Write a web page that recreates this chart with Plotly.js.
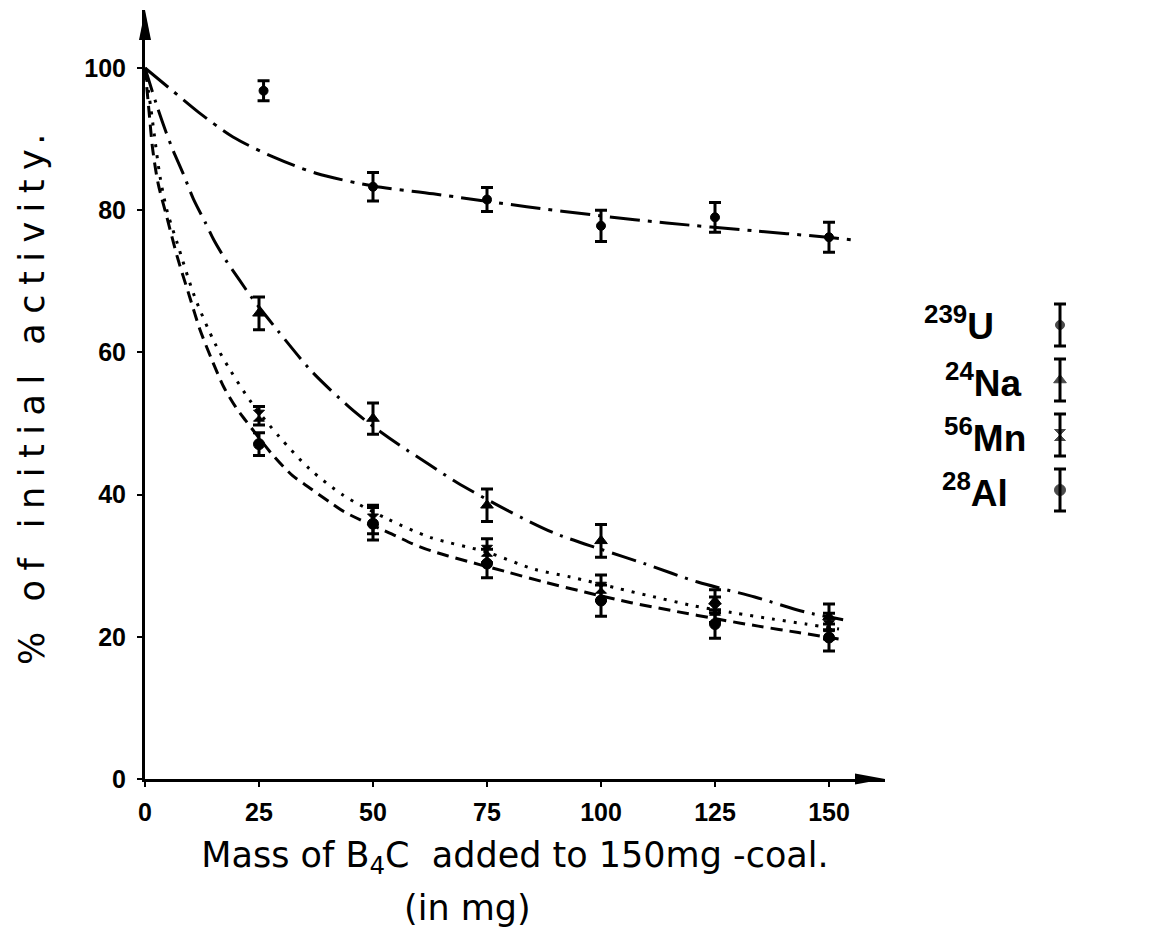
<!DOCTYPE html>
<html><head><meta charset="utf-8">
<script src="https://cdn.plot.ly/plotly-3.0.1.min.js"></script>
<style>
html,body{margin:0;padding:0;background:#fff;}
#chart{width:1153px;height:935px;}
.ytitle{letter-spacing:9.5px;}
</style></head><body><div id="chart"></div>
<script>
// ---------- data ----------
const nuclides = ['U', 'Na', 'Mn', 'Al'];
const massNumbers = ['239', '24', '56', '28'];

const massB4C = [25, 50, 75, 100, 125, 150];
const massB4C_U = [26, 50, 75, 100, 125, 150];

const actU  = [96.8, 83.3, 81.5, 77.8, 79.0, 76.2];
const errU  = [1.4, 2.0, 1.7, 2.2, 2.1, 2.1];
const actNa = [65.5, 50.7, 38.5, 33.5, 25.0, 22.8];
const errNa = [2.3, 2.2, 2.3, 2.3, 1.6, 1.8];
const actMn = [51.1, 36.5, 32.1, 26.9, 23.8, 21.5];
const errMn = [1.3, 2.0, 1.7, 1.8, 1.8, 1.8];
const actAl = [47.1, 35.9, 30.3, 25.1, 21.8, 19.9];
const errAl = [1.6, 2.3, 2.0, 2.2, 2.0, 1.9];

// hand-drawn fitted curves
const fitU_x  = [0, 6.4, 11.7, 19.3, 28.1, 37.5, 50, 63.2, 83.7, 100, 114.4, 133.5, 149.6, 155.5];
const fitU_y  = [100, 96.6, 93.8, 90.3, 87.5, 85.2, 83.4, 82.3, 80.5, 79.2, 78.2, 77.1, 76.2, 75.8];
const fitNa_x = [0, 2.7, 4.6, 6.1, 8.4, 10.6, 13.2, 15.1, 17.7, 20.7, 23.3, 29.2, 36.6, 44.8, 50, 55.7, 62.4, 68.4, 80, 89.7, 100, 109.5, 121.2, 133.7, 144.7, 153.1];
const fitNa_y = [100, 94.5, 91, 88.5, 85.1, 81.6, 78.3, 75.8, 73, 70.2, 67.8, 63.0, 57.3, 52.3, 49.6, 47.0, 44.2, 41.7, 37.6, 34.6, 32.3, 30.3, 27.7, 25.6, 23.5, 22.4];
const fitMn_x = [0, 1.25, 2.1, 3.3, 4.8, 7.1, 10.9, 15.4, 18.7, 23.5, 29.5, 36.1, 43.5, 53.1, 62.5, 75, 85.4, 93.4, 103.1, 110.4, 120, 128.8, 137.6, 144.9, 152.2];
const fitMn_y = [100, 94.5, 90.3, 84.7, 80, 75.3, 67.8, 61.2, 57.5, 52.8, 48.1, 43.6, 39.9, 36.6, 34, 31.9, 29.5, 28.4, 26.9, 25.8, 24.4, 23.4, 22.5, 21.8, 21.1];
const fitAl_x = [0, 0.9, 1.7, 2.9, 4.8, 7.1, 9.8, 12, 14.7, 17.3, 19.9, 22.1, 28.1, 32.3, 36.2, 40.6, 43.9, 55, 58.6, 62.7, 66.3, 79.5, 87.6, 96.4, 106.6, 115.4, 127.2, 134.5, 143.3, 152.1];
const fitAl_y = [100, 93.8, 88.5, 83.7, 79, 73.4, 67.8, 63.3, 58.9, 55.1, 52.3, 50.4, 45.5, 42.7, 40.9, 38.9, 37.5, 34.2, 33.1, 32.1, 31.4, 29.1, 27.7, 26.3, 24.8, 23.7, 22.3, 21.5, 20.6, 19.7];

const xTicks = [0, 25, 50, 75, 100, 125, 150];
const yTicks = [0, 20, 40, 60, 80, 100];

// ---------- layout geometry ----------
const W = 1153, H = 935, L = 145, R = 20, T = 10, B = 156;
const PW = W - L - R, PH = H - T - B;
const axisPx = 740;                 // length of x axis in pixels
const xMax = axisPx / 4.56;
const yMax = PH / 7.11;
const px2paperX = p => (p - L) / PW;
const px2paperY = p => (H - B - p) / PH;

const BLACK = '#000';
const tickFont = {family: 'Liberation Sans, Arial, sans-serif', size: 25, color: BLACK, weight: 'bold'};
const titleFont = {family: 'DejaVu Sans, sans-serif', size: 35, color: BLACK};

function curve(name, x, y, dash) {
  return {name: name + ' fit', x: x, y: y, mode: 'lines', hoverinfo: 'skip', showlegend: false,
    line: {color: BLACK, width: 3, dash: dash, shape: 'spline', smoothing: 0.8}};
}
function points(name, x, y, err, symbol, size) {
  return {name: name, x: x, y: y, mode: 'markers', showlegend: false, cliponaxis: false,
    marker: {symbol: symbol, size: size, color: BLACK, line: {color: BLACK, width: 1}},
    error_y: {type: 'data', array: err, visible: true, thickness: 3, width: 6, color: BLACK}};
}

const symbols = ['circle', 'triangle-up', 'hourglass', 'circle'];
const sizes = [9, 11, 11, 11];

const traces = [
  curve('U', fitU_x, fitU_y, '30px,8px,4px,8px'),
  curve('Na', fitNa_x, fitNa_y, '25px,8px,3px,8px'),
  curve('Mn', fitMn_x, fitMn_y, '3px,8px'),
  curve('Al', fitAl_x, fitAl_y, '12px,7px'),
  points('239U', massB4C_U, actU, errU, symbols[0], sizes[0]),
  points('24Na', massB4C, actNa, errNa, symbols[1], sizes[1]),
  points('56Mn', massB4C, actMn, errMn, symbols[2], sizes[2]),
  points('28Al', massB4C, actAl, errAl, symbols[3], sizes[3]),
  {name: 'legend keys', x: nuclides.map(() => 0), y: nuclides.map((_, i) => i),
   xaxis: 'x2', yaxis: 'y2', mode: 'markers', showlegend: false, hoverinfo: 'skip', cliponaxis: false,
   marker: {symbol: symbols, size: sizes, color: BLACK, line: {color: BLACK, width: 1}},
   error_y: {type: 'constant', value: 0.38, visible: true, thickness: 3, width: 6, color: BLACK}}
];

const legendLeftPx = [922, 943, 942, 940];
const legendRowPx = [324, 380, 435, 490];
const annotations = nuclides.map((n, i) => ({
  xref: 'paper', yref: 'paper', x: px2paperX(legendLeftPx[i]), y: px2paperY(legendRowPx[i]),
  xanchor: 'left', yanchor: 'middle', showarrow: false,
  text: '<sup>' + massNumbers[i] + '</sup>' + n,
  font: {family: 'Liberation Sans, Arial, sans-serif', size: 37, color: BLACK, weight: 'bold'}
}));
annotations.push({xref: 'paper', yref: 'paper', x: px2paperX(467), y: px2paperY(908),
  xanchor: 'center', yanchor: 'middle', showarrow: false, text: '(in mg)', font: titleFont});

const layout = {
  width: W, height: H,
  margin: {l: L, r: R, t: T, b: B, pad: 0},
  paper_bgcolor: '#fff', plot_bgcolor: '#fff',
  showlegend: false,
  xaxis: {domain: [0, axisPx / PW], range: [0, xMax], tickvals: xTicks, ticktext: xTicks.map(String),
    showgrid: false, zeroline: false, showline: true, linecolor: BLACK, linewidth: 3,
    ticks: 'outside', ticklen: 5, tickwidth: 2, tickcolor: BLACK, tickfont: tickFont, ticklabelstandoff: 4,
    title: {text: 'Mass of B<sub>4</sub>C \u00a0added to 150mg -coal.', font: titleFont, standoff: 18},
    automargin: false, fixedrange: true},
  yaxis: {domain: [0, 1], range: [0, yMax], tickvals: yTicks, ticktext: yTicks.map(String),
    showgrid: false, zeroline: false, showline: true, linecolor: BLACK, linewidth: 3,
    ticks: 'outside', ticklen: 5, tickwidth: 2, tickcolor: BLACK, tickfont: tickFont, ticklabelstandoff: 6,
    title: {text: '% of initial activity.', font: {family: 'DejaVu Sans, sans-serif', size: 35, color: BLACK}, standoff: 30},
    automargin: false, fixedrange: true},
  xaxis2: {domain: [px2paperX(1040), px2paperX(1080)], range: [-1, 1], visible: false, anchor: 'y2', fixedrange: true},
  yaxis2: {domain: [px2paperY(517.5), px2paperY(297.5)], range: [3.5, -0.5], visible: false, anchor: 'x2', fixedrange: true},
  annotations: annotations,
  shapes: [
    {type: 'path', xref: 'paper', yref: 'paper', xsizemode: 'pixel', ysizemode: 'pixel',
     xanchor: axisPx / PW, yanchor: 0, path: 'M-30,-5.5L0,0L-30,5.5Z', fillcolor: BLACK, line: {width: 0}, layer: 'above'},
    {type: 'path', xref: 'paper', yref: 'paper', xsizemode: 'pixel', ysizemode: 'pixel',
     xanchor: 0, yanchor: 1, path: 'M-6,-30L0,0L6,-30Z', fillcolor: BLACK, line: {width: 0}, layer: 'above'}
  ]
};

Plotly.newPlot('chart', traces, layout, {displayModeBar: false, staticPlot: true});
</script></body></html>
